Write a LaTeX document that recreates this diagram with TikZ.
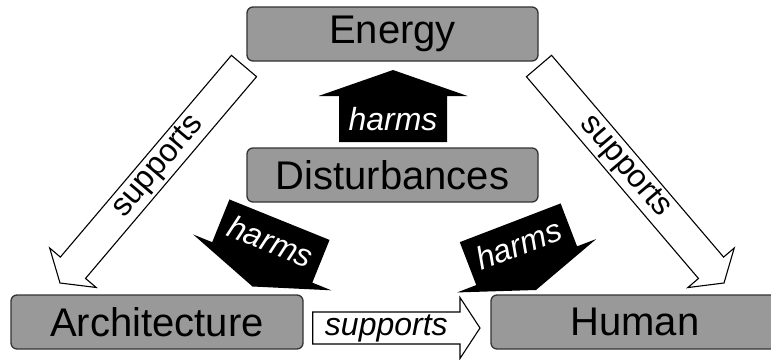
\documentclass[tikz,border=0pt]{standalone}
\usepackage{fontspec}
\setmainfont{Liberation Sans}
\usetikzlibrary{calc}

\definecolor{boxgray}{gray}{0.6}

% Block arrow from tail centre #2 to tip #3:
% shaft half-width #4, head half-width #5, head length #6
\newcommand\blockarrow[6]{%
  \coordinate (#2-hb) at ($(#3)!#6!(#2)$);
  \draw[#1] ($(#2)!#4!90:(#3)$) -- ($(#2-hb)!#4!90:(#3)$)
    -- ($(#2-hb)!#5!90:(#3)$) -- (#3)
    -- ($(#2-hb)!#5!-90:(#3)$) -- ($(#2-hb)!#4!-90:(#3)$)
    -- ($(#2)!#4!-90:(#3)$) -- cycle;
}

\begin{document}
\begin{tikzpicture}[x=1pt, y=-1pt,
  box/.style={draw=black!80, line width=1.3pt, fill=boxgray,
    rounded corners=6pt, minimum height=54pt, inner sep=0pt,
    font=\fontsize{40}{48}\selectfont},
  hollow/.style={draw=black, line width=1.1pt, fill=white, line join=miter},
  solid/.style={fill=black, draw=none},
  harmlabel/.style={text=white, inner sep=0pt,
    font=\fontsize{32}{38}\selectfont\itshape},
  suplabel/.style={text=black, inner sep=0pt,
    font=\fontsize{32}{38}\selectfont}
]
\useasboundingbox (0,0) rectangle (771,359);
\clip (0,0) rectangle (771,359);

% boxes
\node[box, minimum width=291pt] (energy) at (392.5,34) {Energy};
\node[box, minimum width=291pt] (dist)   at (392.5,175) {Disturbances};
\node[box, minimum width=292pt] (arch)   at (157,322) {Architecture};
\node[box, minimum width=288pt] (human)  at (635,322) {Human};

% end points of the block arrows
\coordinate (upT) at (393,142);  \coordinate (upH) at (393,70);
\coordinate (lhT) at (279.5,219.7); \coordinate (lhH) at (252.5,286.5);
\coordinate (rhT) at (510.2,222.8); \coordinate (rhH) at (536,290);
\coordinate (lsT) at (244,66);   \coordinate (lsH) at (60,283);
\coordinate (rsT) at (539,66);   \coordinate (rsH) at (724,283);
\coordinate (bsT) at (312.7,328); \coordinate (bsH) at (480,328);

% harms arrows
\blockarrow{solid}{upT}{upH}{54pt}{74.5pt}{26pt}
\blockarrow{solid}{lhT}{lhH}{54pt}{74.5pt}{26pt}
\blockarrow{solid}{rhT}{rhH}{54pt}{74.5pt}{26pt}

% supports arrows
\blockarrow{hollow}{lsT}{lsH}{16.5pt}{30.5pt}{20pt}
\blockarrow{hollow}{rsT}{rsH}{16.5pt}{30.5pt}{20pt}
\blockarrow{hollow}{bsT}{bsH}{16pt}{30.5pt}{20pt}

% labels
\path (upT) -- (upT-hb) node[midway, harmlabel] (upL) {harms};
\path (lhT) -- (lhT-hb) node[midway, harmlabel, rotate=-22] (lhL) {harms};
\path (rhT) -- (rhT-hb) node[midway, harmlabel, rotate=21] (rhL) {harms};
\path (lsT) -- (lsT-hb) node[midway, suplabel, sloped] (lsL) {supports};
\path (rsT) -- (rsT-hb) node[midway, suplabel, sloped] (rsL) {supports};
\path (bsT) -- (bsT-hb) node[midway, suplabel, font=\fontsize{32}{38}\selectfont\itshape] (bsL) {supports};
\end{tikzpicture}
\end{document}
